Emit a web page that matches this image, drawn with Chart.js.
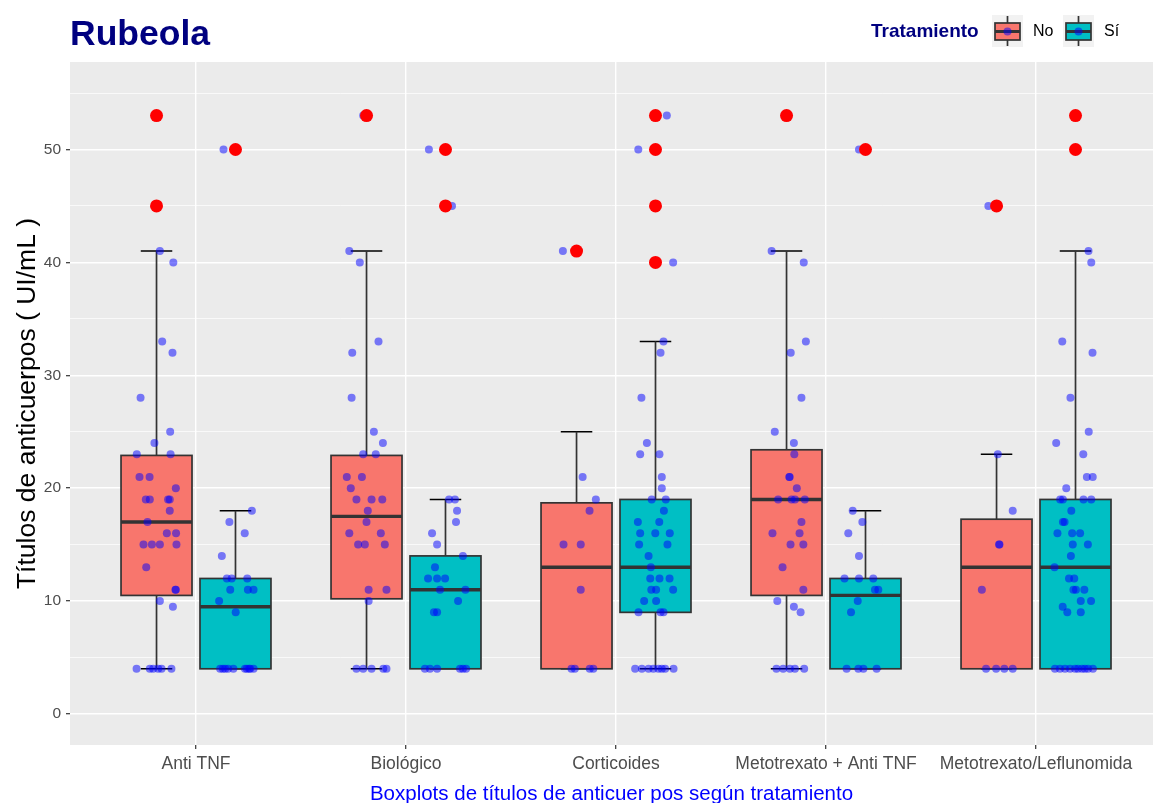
<!DOCTYPE html>
<html>
<head>
<meta charset="utf-8">
<script src="https://cdn.jsdelivr.net/npm/chart.js@4.4.1/dist/chart.umd.min.js"></script>
<style>
  html, body { margin: 0; padding: 0; background: #ffffff; overflow: hidden; }
  #wrap { width: 1153px; height: 803px; position: relative; }
</style>
</head>
<body>
<div id="wrap"><canvas id="chart" width="1153" height="803"></canvas></div>
<script>
// Treatment categories on the x axis
const categories = ['Anti TNF', 'Biológico', 'Corticoides', 'Metotrexato + Anti TNF', 'Metotrexato/Leflunomida'];
const groups = ['No', 'Sí'];

// Box statistics per category: [lower whisker, Q1, median, Q3, upper whisker]
const statsNo = [
  [4, 10.5, 17, 22.9, 41],
  [4, 10.2, 17.5, 22.9, 41],
  [4, 4, 13, 18.7, 25],
  [4, 10.5, 19, 23.4, 41],
  [4, 4, 13, 17.25, 23]
];
const statsSi = [
  [4, 4, 9.5, 12, 18],
  [4, 4, 11, 14, 19],
  [4, 9, 13, 19, 33],
  [4, 4, 10.5, 12, 18],
  [4, 4, 13, 19, 41]
];

// Outlying titres per category
const outliersNo = [[53, 45], [53], [41], [53], [45]];
const outliersSi = [[50], [50, 45], [53, 50, 45, 40], [50], [53, 50]];

// Individual titres: [value, horizontal jitter in -1..1]
const pointsNo = [
  [[53,0],[45,0.02],[41,0.16],[40,0.8],[33,0.27],[32,0.76],[28,-0.76],[25,0.65],[24,-0.1],[23,-0.94],[23,0.67],
   [21,-0.81],[21,-0.33],[20,0.92],[19,-0.51],[19,-0.32],[19,0.55],[19,0.63],[18,0.63],[17,-0.43],[16,0.49],[16,0.93],
   [15,-0.62],[15,-0.22],[15,0.16],[15,0.95],[13,-0.49],[11,0.92],[11,0.9],[10,0.16],[9.5,0.78],
   [4,-0.95],[4,-0.32],[4,-0.16],[4,0.08],[4,0.24],[4,0.71]],
  [[53,-0.16],[41,-0.82],[40,-0.32],[33,0.57],[32,-0.68],[28,-0.71],[25,0.35],[24,0.78],[23,-0.16],[23,0.44],
   [21,-0.94],[21,-0.22],[20,-0.75],[19,-0.48],[19,0.24],[19,0.75],[18,0.06],[17,0],[16,-0.82],[16,0.68],
   [15,-0.4],[15,-0.08],[15,0.87],[11,0.1],[11,0.95],[10,0.1],
   [4,-0.48],[4,-0.16],[4,0.24],[4,0.8],[4,0.95]],
  [[41,-0.65],[21,0.29],[19,0.92],[18,0.62],[15,-0.62],[15,0.2],[11,0.2],
   [4,-0.24],[4,-0.08],[4,0.63],[4,0.8]],
  [[53,0.08],[41,-0.71],[40,0.82],[33,0.92],[32,0.2],[28,0.71],[25,-0.56],[24,0.35],[23,0.37],[21,0.13],[21,0.15],
   [20,0.49],[19,-0.4],[19,0.24],[19,0.4],[19,0.87],[17,0.71],[16,-0.67],[16,0.62],[15,0.19],[15,0.8],[13,-0.19],
   [11,0.8],[10,-0.44],[9.5,0.35],[9,0.67],
   [4,-0.48],[4,-0.16],[4,0.16],[4,0.4],[4,0.84]],
  [[45,-0.39],[23,0.06],[18,0.77],[15,0.12],[15,0.14],[11,-0.7],
   [4,-0.5],[4,-0.02],[4,0.37],[4,0.77]]
];
const pointsSi = [
  [[50,-0.57],[18,0.78],[17,-0.29],[16,0.44],[14,-0.65],[12,-0.41],[12,-0.18],[12,0.56],[11,-0.25],[11,0.59],[11,0.86],
   [10,-0.78],[9,0.01],
   [4,-0.73],[4,-0.6],[4,-0.49],[4,-0.35],[4,-0.1],[4,0.45],[4,0.54],[4,0.65],[4,0.7],[4,0.86]],
  [[50,-0.79],[45,0.31],[19,0.17],[19,0.45],[18,0.55],[17,0.5],[16,-0.64],[15,-0.4],[14,0.83],[13,-0.5],
   [12,-0.83],[12,-0.4],[12,-0.02],[11,-0.26],[11,0.95],[10,0.6],[9,-0.55],[9,-0.4],
   [4,-0.98],[4,-0.74],[4,-0.4],[4,0.69],[4,0.83],[4,0.98]],
  [[53,0.54],[50,-0.82],[45,-0.05],[40,0.84],[33,0.38],[32,0.24],[28,-0.67],[24,-0.41],[23,0.19],[23,-0.73],
   [21,0.3],[20,0.3],[19,-0.18],[19,0.49],[18,0.4],[17,-0.84],[17,0.18],[16,-0.73],[16,-0.01],[16,0.68],
   [15,-0.78],[15,0.57],[14,-0.33],[13,-0.22],[12,-0.25],[12,0.19],[12,0.67],[11,-0.2],[11,0.03],[11,0.84],
   [10,-0.54],[10,0.03],[9,-0.81],[9,0.24],[9,0.38],
   [4,-0.97],[4,-0.65],[4,-0.33],[4,-0.1],[4,0.14],[4,0.3],[4,0.46],[4,0.86]],
  [[50,-0.31],[18,-0.61],[17,-0.15],[16,-0.82],[14,-0.31],[12,-1.0],[12,-0.31],[12,0.37],[11,0.45],[11,0.61],
   [10,-0.37],[9,-0.69],
   [4,-0.9],[4,-0.34],[4,-0.1],[4,0.53]],
  [[53,0],[50,-0.06],[41,0.62],[40,0.75],[33,-0.63],[32,0.81],[28,-0.24],[25,0.63],[24,-0.92],[23,0.37],
   [21,0.54],[21,0.82],[20,-0.44],[19,-0.73],[19,-0.6],[19,0.38],[19,0.75],[18,-0.2],[17,-0.6],[17,-0.52],
   [16,-0.86],[16,-0.16],[16,0.22],[15,-0.13],[15,0.59],[14,-0.22],[13,-1.0],[12,-0.31],[12,-0.06],
   [11,-0.1],[11,0.02],[11,0.42],[10,0.25],[10,0.74],[9.5,-0.61],[9,-0.39],[9,0.25],
   [4,-0.98],[4,-0.74],[4,-0.5],[4,-0.26],[4,-0.02],[4,0.12],[4,0.31],[4,0.45],[4,0.6],[4,0.83]]
];

// Axis ticks
const yTickLabels = [0, 10, 20, 30, 40, 50];
const yMinorGrid = [5, 15, 25, 35, 45, 55];

// ---- drawing constants ----
const FONT = '"Liberation Sans", Arial, Helvetica, sans-serif';
const FILLS = ['#F8766D', '#00BFC4'];
const DODGE = [-0.188, 0.188];     // group offset within a category
const BOX_HALF = 0.169;            // half box width (category units)
const CAP_HALF = 0.075;            // half whisker-cap width
const JITTER = 0.1;                // jitter half width

function groupX(cat, g) { return cat + 1 + DODGE[g]; }

const jitterData = [];
[pointsNo, pointsSi].forEach((sets, g) => {
  sets.forEach((pts, i) => {
    pts.forEach(([v, o]) => jitterData.push({ x: groupX(i, g) + o * JITTER, y: v }));
  });
});
const outlierData = [];
[outliersNo, outliersSi].forEach((sets, g) => {
  sets.forEach((vals, i) => vals.forEach(v => outlierData.push({ x: groupX(i, g), y: v })));
});

// Grey panel background
const panelBg = {
  id: 'panelBg',
  beforeDraw(chart) {
    const { ctx, chartArea: a } = chart;
    ctx.save();
    ctx.fillStyle = '#EBEBEB';
    ctx.fillRect(a.left, a.top, a.right - a.left, a.bottom - a.top);
    ctx.restore();
  }
};

// Box-and-whisker glyphs, positioned with the chart's scales
const boxes = {
  id: 'boxes',
  beforeDatasetsDraw(chart) {
    const { ctx, chartArea: a, scales: { x, y } } = chart;
    ctx.save();
    ctx.beginPath();
    ctx.rect(a.left, a.top, a.right - a.left, a.bottom - a.top);
    ctx.clip();
    const seg = (x1, y1, x2, y2) => { ctx.beginPath(); ctx.moveTo(x1, y1); ctx.lineTo(x2, y2); ctx.stroke(); };
    [statsNo, statsSi].forEach((stats, g) => {
      stats.forEach((s, i) => {
        const c = groupX(i, g);
        const xc = x.getPixelForValue(c);
        const xl = x.getPixelForValue(c - BOX_HALF);
        const xr = x.getPixelForValue(c + BOX_HALF);
        const cl = x.getPixelForValue(c - CAP_HALF);
        const cr = x.getPixelForValue(c + CAP_HALF);
        const [lo, q1, med, q3, hi] = s.map(v => y.getPixelForValue(v));
        // whisker caps
        ctx.strokeStyle = '#000000';
        ctx.lineWidth = 1.5;
        seg(cl, hi, cr, hi);
        seg(cl, lo, cr, lo);
        // whiskers
        ctx.strokeStyle = '#333333';
        ctx.lineWidth = 1.7;
        seg(xc, hi, xc, q3);
        seg(xc, q1, xc, lo);
        // box
        ctx.fillStyle = FILLS[g];
        ctx.fillRect(xl, q3, xr - xl, q1 - q3);
        ctx.strokeRect(xl, q3, xr - xl, q1 - q3);
        // median
        ctx.lineWidth = 3.4;
        seg(xl, med, xr, med);
      });
    });
    ctx.restore();
  }
};

// Title and legend
const header = {
  id: 'header',
  afterDraw(chart) {
    const { ctx } = chart;
    ctx.save();
    ctx.fillStyle = '#000080';
    ctx.textBaseline = 'alphabetic';
    ctx.textAlign = 'left';
    ctx.font = 'bold 35.5px ' + FONT;
    ctx.fillText('Rubeola', 70, 45);

    ctx.textBaseline = 'middle';
    ctx.font = 'bold 19px ' + FONT;
    ctx.fillText('Tratamiento', 871, 32);

    const keys = [992, 1063];
    groups.forEach((name, g) => {
      const kx = keys[g], ky = 15, kw = 31, kh = 32;
      ctx.fillStyle = '#F2F2F2';
      ctx.fillRect(kx, ky, kw, kh);
      const cx = kx + kw / 2;
      ctx.strokeStyle = '#333333';
      ctx.lineWidth = 1.7;
      ctx.beginPath(); ctx.moveTo(cx, ky + 1); ctx.lineTo(cx, ky + kh - 1); ctx.stroke();
      ctx.fillStyle = FILLS[g];
      ctx.fillRect(kx + 3, ky + 8, kw - 6, 17);
      ctx.strokeRect(kx + 3, ky + 8, kw - 6, 17);
      ctx.lineWidth = 3;
      ctx.beginPath(); ctx.moveTo(kx + 3, ky + 16.5); ctx.lineTo(kx + kw - 3, ky + 16.5); ctx.stroke();
      ctx.fillStyle = 'rgba(0,0,255,0.5)';
      ctx.beginPath(); ctx.arc(cx, ky + 16.5, 4, 0, Math.PI * 2); ctx.fill();
      ctx.fillStyle = '#000000';
      ctx.font = '16px ' + FONT;
      ctx.fillText(name, kx + kw + 10, 32);
    });
    ctx.restore();
  }
};

new Chart(document.getElementById('chart'), {
  type: 'scatter',
  data: {
    datasets: [
      {
        label: 'outliers',
        data: outlierData,
        pointRadius: 6.5,
        pointBackgroundColor: '#FF0000',
        pointBorderWidth: 0,
        pointHoverRadius: 6.5
      },
      {
        label: 'titres',
        data: jitterData,
        pointRadius: 4,
        pointBackgroundColor: 'rgba(0,0,255,0.5)',
        pointBorderWidth: 0,
        pointHoverRadius: 4
      }
    ]
  },
  options: {
    responsive: false,
    animation: false,
    devicePixelRatio: 1,
    events: [],
    layout: { autoPadding: false, padding: { top: 62, right: 0, bottom: 0, left: 0 } },
    plugins: { legend: { display: false }, tooltip: { enabled: false }, title: { display: false } },
    scales: {
      x: {
        type: 'linear',
        min: 0.4,
        max: 5.557,
        afterBuildTicks: s => { s.ticks = categories.map((_, i) => ({ value: i + 1 })); },
        afterFit: s => { s.height = 58; s.paddingLeft = 0; s.paddingRight = 0; },
        border: { display: false },
        grid: { color: '#FFFFFF', lineWidth: 1.4, tickColor: '#333333', tickLength: 4, tickWidth: 1.2 },
        ticks: {
          autoSkip: false, maxRotation: 0, minRotation: 0,
          callback: v => categories[Math.round(v) - 1] || '',
          color: '#4D4D4D', font: { family: FONT, size: 17.5 }, padding: 5
        },
        title: {
          display: true, text: 'Boxplots de títulos de anticuer pos según tratamiento',
          color: '#0000FF', font: { family: FONT, size: 20.5, lineHeight: 0.8 }, padding: { top: 0, bottom: 0 }
        }
      },
      y: {
        type: 'linear',
        min: -2.75,
        max: 57.75,
        afterBuildTicks: s => {
          s.ticks = yTickLabels.concat(yMinorGrid).sort((a, b) => a - b).map(v => ({ value: v }));
        },
        afterFit: s => { s.width = 70; s.paddingTop = 0; s.paddingBottom = 0; },
        border: { display: false },
        grid: {
          color: '#FFFFFF',
          lineWidth: c => (c.tick && yTickLabels.includes(c.tick.value)) ? 1.4 : 0.7,
          tickColor: c => (c.tick && yTickLabels.includes(c.tick.value)) ? '#333333' : 'rgba(0,0,0,0)',
          tickLength: 4, tickWidth: 1.2
        },
        ticks: {
          autoSkip: false,
          callback: v => yTickLabels.includes(v) ? String(v) : '',
          color: '#4D4D4D', font: { family: FONT, size: 15.5 }, padding: 5
        },
        title: {
          display: true, text: 'Títulos de anticuerpos ( UI/mL )',
          color: '#000000', font: { family: FONT, size: 26.5 }, padding: { top: 12, bottom: 0 }
        }
      }
    }
  },
  plugins: [panelBg, boxes, header]
});
</script>
</body>
</html>
